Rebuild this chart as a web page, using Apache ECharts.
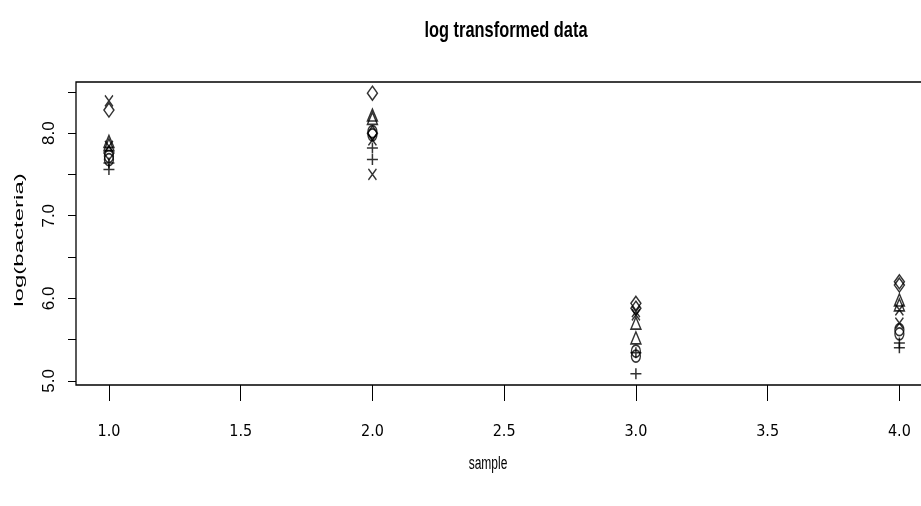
<!DOCTYPE html>
<html>
<head>
<meta charset="utf-8">
<script src="https://cdn.jsdelivr.net/npm/echarts@6/dist/echarts.min.js"></script>
<style>
  html, body { margin: 0; padding: 0; background: #fff; }
  #chart { width: 921px; height: 506px; }
</style>
</head>
<body>
<div id="chart"></div>
<script>
// Sample numbers on the x axis
var samples = [1, 2, 3, 4];

// log(bacteria) readings per sample, two replicates for each plotting symbol
var circleVals   = [[7.72, 7.68], [8.02, 7.98], [5.36, 5.30], [5.62, 5.57]];
var triangleVals = [[7.90, 7.86], [8.22, 8.18], [5.70, 5.52], [5.98, 5.92]];
var plusVals     = [[7.64, 7.56], [7.82, 7.68], [5.34, 5.086], [5.46, 5.40]];
var crossVals    = [[8.39, 7.84], [7.92, 7.50], [5.84, 5.80], [5.86, 5.70]];
var diamondVals  = [[8.28, 7.76], [8.484, 8.00], [5.94, 5.88], [6.20, 6.16]];

// Tick positions and labels
var xTicks = [1, 1.5, 2, 2.5, 3, 3.5, 4];
var yTicks = [5, 5.5, 6, 6.5, 7, 7.5, 8, 8.5];
var yLabels = [5, 6, 7, 8];

function toPoints(vals) {
  var pts = [];
  samples.forEach(function (s, i) {
    vals[i].forEach(function (v) { pts.push([s, v]); });
  });
  return pts;
}

var hollow = { color: 'none', borderColor: '#000', borderWidth: 1.5 };

function symbolSeries(name, vals, symbol, size) {
  return {
    name: name,
    type: 'scatter',
    data: toPoints(vals),
    symbol: symbol,
    symbolSize: size,
    itemStyle: hollow,
    emphasis: { disabled: true },
    silent: true
  };
}

var chart = echarts.init(document.getElementById('chart'), null, { renderer: 'canvas' });

chart.setOption({
  animation: false,
  backgroundColor: '#fff',
  grid: {
    left: 76, top: 82, width: 855, height: 303,
    outerBoundsMode: 'none',
    containLabel: false,
    show: true, borderColor: '#000', borderWidth: 1.3, backgroundColor: 'transparent'
  },
  xAxis: {
    type: 'value',
    min: 0.875, max: 4.12,
    axisLine: { show: false },
    splitLine: { show: false },
    axisTick: {
      show: true, inside: false, length: 16, customValues: xTicks,
      lineStyle: { color: '#000', width: 1 }
    },
    axisLabel: {
      customValues: xTicks,
      margin: 39,
      color: '#000',
      fontFamily: '"Liberation Sans Narrow", "DejaVu Sans Condensed", "Liberation Sans", sans-serif',
      fontSize: 16,
      formatter: function (v) { return v.toFixed(1); }
    }
  },
  yAxis: {
    type: 'value',
    min: 4.95, max: 8.62,
    axisLine: { show: false },
    splitLine: { show: false },
    axisTick: {
      show: true, inside: false, length: 8, customValues: yTicks,
      lineStyle: { color: '#000', width: 1 }
    },
    axisLabel: {
      customValues: yLabels,
      rotate: 90,
      margin: 18,
      color: '#000',
      fontFamily: '"Liberation Sans", Arial, sans-serif',
      fontSize: 17,
      formatter: function (v) { return v.toFixed(1); }
    }
  },
  graphic: [
    {
      type: 'text', x: 506, y: 31, scaleX: 0.82, scaleY: 1.1,
      style: {
        text: 'log transformed data',
        font: 'bold 20px "Liberation Sans", Arial, sans-serif',
        fill: '#000', align: 'center', verticalAlign: 'middle'
      }
    },
    {
      type: 'text', x: 488, y: 464, scaleX: 0.8, scaleY: 1.2,
      style: {
        text: 'sample',
        font: '15px "Liberation Sans", Arial, sans-serif',
        fill: '#000', align: 'center', verticalAlign: 'middle'
      }
    },
    {
      type: 'text', x: 19, y: 240, rotation: Math.PI / 2, scaleX: 1.85,
      style: {
        text: 'log(bacteria)',
        font: '13px "Liberation Sans", Arial, sans-serif',
        fill: '#000', align: 'center', verticalAlign: 'middle'
      }
    }
  ],
  series: [
    symbolSeries('circle', circleVals, 'circle', [9, 12]),
    symbolSeries('triangle', triangleVals, 'triangle', [10, 12]),
    symbolSeries('plus', plusVals, 'path://M0,5L10,5M5,0L5,10', [11, 11]),
    symbolSeries('cross', crossVals, 'path://M0,0L10,10M10,0L0,10', [8, 11]),
    symbolSeries('diamond', diamondVals, 'diamond', [10, 14])
  ]
});
</script>
</body>
</html>
